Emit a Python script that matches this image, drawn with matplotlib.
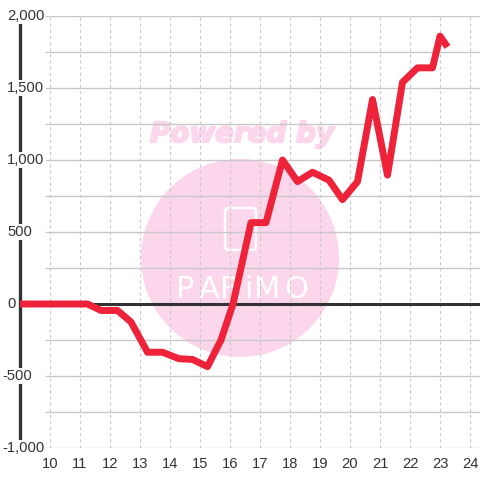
import matplotlib
matplotlib.use("Agg")
import matplotlib.pyplot as plt
import matplotlib.patheffects as pe
from matplotlib.patches import Circle, FancyBboxPatch
from matplotlib.transforms import blended_transform_factory

plt.rcParams["font.family"] = ["Liberation Sans", "DejaVu Sans"]
plt.rcParams["lines.scale_dashes"] = False

# series
hours = [9, 11.25, 11.7, 12.25, 12.7, 13.25, 13.75, 14.3, 14.75, 15.25,
         15.7, 16.1, 16.7, 17.2, 17.75, 18.25, 18.75, 19.3, 19.75, 20.25,
         20.75, 21.25, 21.75, 22.25, 22.75, 23.0, 23.25]
values = [0, 0, -45, -45, -125, -335, -335, -380, -385, -435,
          -250, 0, 565, 565, 1000, 850, 915, 860, 725, 850,
          1420, 895, 1540, 1640, 1640, 1860, 1785]

x_ticks = list(range(10, 25))
y_labels = [-1000, -500, 0, 500, 1000, 1500, 2000]
y_grid = list(range(-1000, 2001, 250))

TXT = "#333333"
GRID = "#c8c8c8"
PINK = "#fcd6eb"

fig = plt.figure(figsize=(4.8, 4.8), dpi=100)
ax = fig.add_axes([20 / 480, 32 / 480, 460 / 480, 432 / 480])
ax.set_xlim(9, 24.333)
ax.set_ylim(-1000, 2000)
for s in ax.spines.values():
    s.set_visible(False)

ax.set_yticks([])
ax.set_xticks(x_ticks)
ax.tick_params(axis="x", length=0, labelsize=10.6, pad=6.5, labelcolor=TXT)
ax.grid(axis="x", linestyle=(0, (2.2, 2.2)), color=GRID, lw=0.8, zorder=0.5)
for y in y_grid:
    ax.axhline(y, xmin=26 / 460, color=GRID, lw=1, zorder=0.5)

# watermark
def px(x, y):
    return (x / 100, (480 - y) / 100)

ax.add_patch(Circle(px(240, 258), 0.99, transform=fig.dpi_scale_trans,
                    color=PINK, lw=0, zorder=0.2))
ax.text(*px(242, 134), "Powered by", transform=fig.dpi_scale_trans,
        ha="center", va="center", fontsize=20, fontweight="bold",
        style="italic", color=PINK, family="DejaVu Sans", zorder=0.2,
        path_effects=[pe.withStroke(linewidth=1.5, foreground=PINK)])
ax.add_patch(FancyBboxPatch(px(225, 250), 0.31, 0.42,
                            boxstyle="round,pad=0,rounding_size=0.04",
                            fill=False, ec="white", lw=1.8,
                            transform=fig.dpi_scale_trans, zorder=0.3))
for ch, cx in zip("PARiMO", [185, 209, 231, 248, 267, 296]):
    ax.text(*px(cx, 289), ch, transform=fig.dpi_scale_trans, ha="center",
            va="center", fontsize=22, color="white",
            family="DejaVu Sans", zorder=0.3)

ax.axhline(0, color=TXT, lw=2.2, zorder=3)
ax.axvline(9, color=TXT, lw=2.4, zorder=3, clip_on=False)

tr = blended_transform_factory(fig.transFigure, ax.transData)
for v in y_labels:
    ax.text(2 / 480 if v < 0 else 7 / 480, v, f"{v:,}", transform=tr,
            ha="left", va="center", fontsize=10.6, color=TXT, zorder=6,
            bbox=dict(fc="white", ec="none", pad=1))

ax.plot(hours, values, color="#ee2238", lw=5, zorder=4,
        solid_joinstyle="round", solid_capstyle="butt")

fig.savefig("out.png", dpi=100)
